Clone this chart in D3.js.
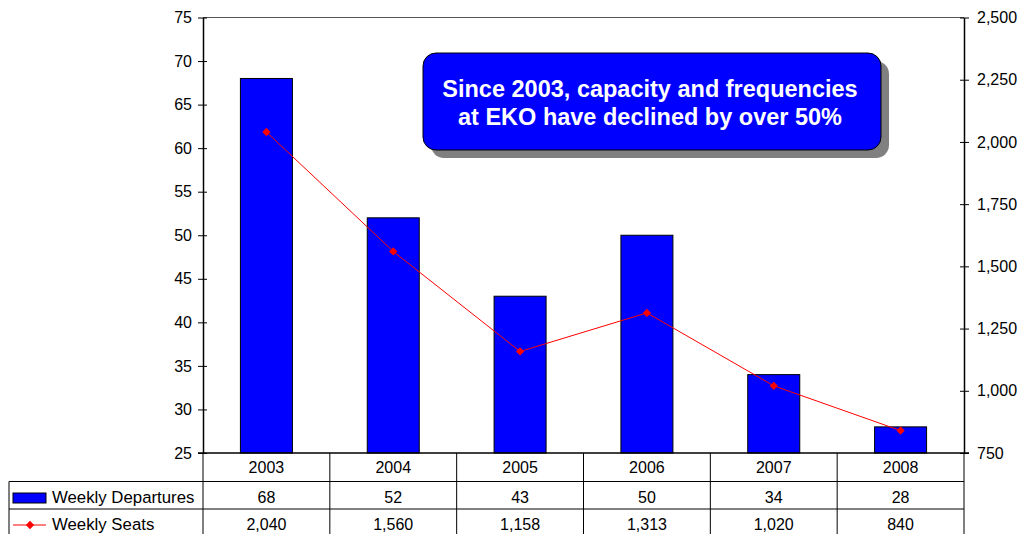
<!DOCTYPE html>
<html>
<head>
<meta charset="utf-8">
<script src="https://cdn.jsdelivr.net/npm/d3@7"></script>
<style>
  body { margin: 0; background: #fff; }
  svg { font-family: "Liberation Sans", Arial, sans-serif; }
  .axis text { font-size: 16px; fill: #000; }
  .axis path, .axis line { stroke: #000; }
</style>
</head>
<body>
<svg id="chart" width="1021" height="534"></svg>
<script>
// chart data
const years = ['2003', '2004', '2005', '2006', '2007', '2008'];
const departures = [68, 52, 43, 50, 34, 28];
const seats = [2040, 1560, 1158, 1313, 1020, 840];
const leftTicks = [25, 30, 35, 40, 45, 50, 55, 60, 65, 70, 75];
const rightTicks = [750, 1000, 1250, 1500, 1750, 2000, 2250, 2500];
const noteLines = ['Since 2003, capacity and frequencies', 'at EKO have declined by over 50%'];

const margin = { top: 17.5, right: 57, bottom: 81, left: 203 };
const W = 1021, H = 534;
const plotRight = W - margin.right;
const plotBottom = H - margin.bottom;

const svg = d3.select('#chart');
const fmt = d3.format(',');

const x = d3.scaleBand()
  .domain(years)
  .range([margin.left, plotRight])
  .paddingInner(0.59)
  .paddingOuter(0.295);

const yL = d3.scaleLinear().domain([25, 75]).range([plotBottom, margin.top]);
const yR = d3.scaleLinear().domain([750, 2500]).range([plotBottom, margin.top]);

// top border of plot area
svg.append('line')
  .attr('x1', margin.left).attr('x2', plotRight)
  .attr('y1', margin.top).attr('y2', margin.top)
  .attr('stroke', '#555');

// bars
svg.selectAll('rect.bar')
  .data(departures)
  .enter()
  .append('rect')
  .attr('class', 'bar')
  .attr('x', (d, i) => x(years[i]))
  .attr('y', (d) => yL(d))
  .attr('width', x.bandwidth())
  .attr('height', (d) => plotBottom - yL(d))
  .attr('fill', '#0000ff')
  .attr('stroke', '#000')
  .attr('stroke-width', 1);

// left axis
const gL = svg.append('g')
  .attr('class', 'axis')
  .attr('transform', `translate(${margin.left}, 0)`)
  .call(d3.axisLeft(yL).tickValues(leftTicks).tickSize(5).tickSizeOuter(0).tickPadding(6));
gL.selectAll('.tick line').attr('x1', 4);
gL.select('.domain').attr('stroke-width', 1.5);

// right axis
const gR = svg.append('g')
  .attr('class', 'axis')
  .attr('transform', `translate(${plotRight}, 0)`)
  .call(d3.axisRight(yR).tickValues(rightTicks).tickFormat(fmt).tickSize(5).tickSizeOuter(0).tickPadding(8));
gR.selectAll('.tick line').attr('x1', -4);
gR.select('.domain').attr('stroke-width', 1.5);

// bottom axis line
svg.append('line')
  .attr('x1', margin.left - 5).attr('x2', plotRight + 5)
  .attr('y1', plotBottom).attr('y2', plotBottom)
  .attr('stroke', '#000').attr('stroke-width', 1.5);

// seats line
const cx = (i) => x(years[i]) + x.bandwidth() / 2;
const line = d3.line()
  .x((d, i) => cx(i))
  .y((d) => yR(d));

svg.append('path')
  .datum(seats)
  .attr('d', line)
  .attr('fill', 'none')
  .attr('stroke', '#ff0000')
  .attr('stroke-width', 1);

const diamond = d3.symbol().type(d3.symbolDiamond2).size(44);
svg.selectAll('path.dot')
  .data(seats)
  .enter()
  .append('path')
  .attr('class', 'dot')
  .attr('d', diamond)
  .attr('transform', (d, i) => `translate(${cx(i)}, ${yR(d)})`)
  .attr('fill', '#ff0000');

// annotation box
const box = { x: 423, y: 53, w: 458, h: 97 };
svg.append('rect')
  .attr('x', box.x + 8).attr('y', box.y + 8)
  .attr('width', box.w).attr('height', box.h)
  .attr('rx', 13)
  .attr('fill', '#808080');
svg.append('rect')
  .attr('x', box.x).attr('y', box.y)
  .attr('width', box.w).attr('height', box.h)
  .attr('rx', 13)
  .attr('fill', '#0000ff')
  .attr('stroke', '#000')
  .attr('stroke-width', 1);
svg.selectAll('text.note')
  .data(noteLines)
  .enter()
  .append('text')
  .attr('class', 'note')
  .attr('x', box.x + box.w / 2 - 2)
  .attr('y', (d, i) => 96.5 + i * 28)
  .attr('text-anchor', 'middle')
  .attr('fill', '#fff')
  .attr('font-weight', 'bold')
  .attr('font-size', '23.5px')
  .text((d) => d);

// data table
const step = x.step();
const colEdges = years.map((d, i) => margin.left + i * step).concat([plotRight]);
const tableLeft = 9;
const rowLines = [481.5, 509];
const tableBottom = H;
const tbl = svg.append('g').attr('stroke', '#000').attr('stroke-width', 1);

colEdges.forEach((cxEdge) => {
  tbl.append('line')
    .attr('x1', cxEdge).attr('x2', cxEdge)
    .attr('y1', plotBottom).attr('y2', tableBottom);
});
rowLines.forEach((ry) => {
  tbl.append('line')
    .attr('x1', tableLeft).attr('x2', plotRight)
    .attr('y1', ry).attr('y2', ry);
});
tbl.append('line')
  .attr('x1', tableLeft).attr('x2', tableLeft)
  .attr('y1', rowLines[0]).attr('y2', tableBottom);

const rows = [
  { y: 473, values: years },
  { y: 503, values: departures.map(fmt) },
  { y: 530, values: seats.map(fmt) }
];
rows.forEach((row) => {
  svg.selectAll(null)
    .data(row.values)
    .enter()
    .append('text')
    .attr('x', (d, i) => cx(i))
    .attr('y', row.y)
    .attr('text-anchor', 'middle')
    .attr('font-size', '16px')
    .text((d) => d);
});

// legend entries in table
svg.append('rect')
  .attr('x', 13).attr('y', 493)
  .attr('width', 33).attr('height', 10)
  .attr('fill', '#0000ff').attr('stroke', '#000');
svg.append('text')
  .attr('x', 52).attr('y', 503)
  .attr('font-size', '16.8px')
  .text('Weekly Departures');

svg.append('line')
  .attr('x1', 13).attr('x2', 46)
  .attr('y1', 525).attr('y2', 525)
  .attr('stroke', '#ff0000');
svg.append('path')
  .attr('d', diamond)
  .attr('transform', 'translate(30, 525)')
  .attr('fill', '#ff0000');
svg.append('text')
  .attr('x', 52).attr('y', 530)
  .attr('font-size', '16.8px')
  .text('Weekly Seats');
</script>
</body>
</html>
